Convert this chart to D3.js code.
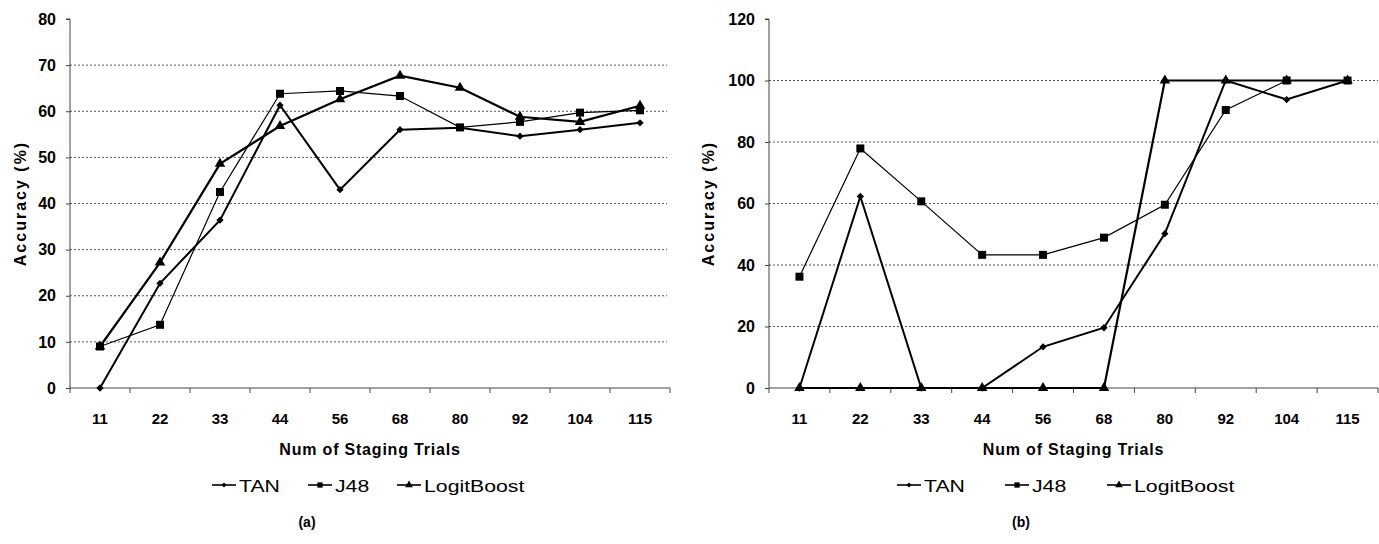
<!DOCTYPE html>
<html>
<head>
<meta charset="utf-8">
<script src="https://cdn.jsdelivr.net/npm/d3@7"></script>
<style>
  body { margin: 0; background: #fff; }
  text { font-family: "Liberation Sans", Arial, sans-serif; fill: #000; }
</style>
</head>
<body>
<svg id="chart" width="1379" height="544"></svg>
<script>
// values
var categories = ['11', '22', '33', '44', '56', '68', '80', '92', '104', '115'];
var seriesNames = ['TAN', 'J48', 'LogitBoost'];

var tanA = [0, 22.7, 36.4, 61.3, 43, 56, 56.4, 54.6, 56, 57.5];
var j48A = [9, 13.7, 42.5, 63.8, 64.4, 63.3, 56.5, 57.7, 59.7, 60.2];
var logitA = [9, 27.2, 48.6, 56.8, 62.6, 67.7, 65.1, 58.8, 57.7, 61.2];
var yTicksA = [0, 10, 20, 30, 40, 50, 60, 70, 80];

var tanB = [0, 62.3, 0, 0, 13.4, 19.6, 50.2, 100, 93.8, 100];
var j48B = [36.2, 77.9, 60.7, 43.3, 43.3, 48.9, 59.6, 90.4, 100, 100];
var logitB = [0, 0, 0, 0, 0, 0, 100, 100, 100, 100];
var yTicksB = [0, 20, 40, 60, 80, 100, 120];

var svg = d3.select('#chart');

var symbols = [d3.symbolDiamond2, d3.symbolSquare, d3.symbolTriangle];
var markerSize = [34, 64, 48];
var legendMarkerSize = [16, 28, 26];
var strokeW = [2, 1.2, 2.2];

function drawPanel(opts) {
	var g = svg.append('g');
	var x = d3.scaleBand().domain(categories).range([opts.left, opts.right]).padding(0);
	var y = d3.scaleLinear().domain([0, d3.max(opts.yTicks)]).range([388, 19]);
	var top = d3.max(opts.yTicks);

	// grid lines (not at 0 nor at top)
	g.selectAll('line.grid')
		.data(opts.yTicks.filter(function (t) { return t > 0 && t < top; }))
		.enter().append('line')
		.attr('x1', opts.left).attr('x2', opts.gridEnd)
		.attr('y1', function (d) { return y(d); }).attr('y2', function (d) { return y(d); })
		.attr('stroke', '#555').attr('stroke-width', 1).attr('stroke-dasharray', '2,2');

	// y axis
	var yAxis = d3.axisLeft(y).tickValues(opts.yTicks).tickSize(4).tickPadding(10);
	var ya = g.append('g').attr('transform', 'translate(' + opts.left + ',0)').call(yAxis);
	ya.select('.domain').attr('stroke', '#444').attr('d', 'M-4,' + y(top) + 'H0V' + y(0));
	ya.selectAll('.tick line').attr('stroke', '#444');
	ya.selectAll('.tick text').attr('font-size', 16).attr('font-weight', 'bold')
		.attr('font-family', '"Liberation Sans", Arial, sans-serif').attr('fill', '#000');

	// x axis: ticks at band boundaries, labels at band centres
	var xa = g.append('g');
	xa.append('line').attr('x1', opts.left).attr('x2', opts.right)
		.attr('y1', 388).attr('y2', 388).attr('stroke', '#444');
	var edges = categories.map(function (c) { return x(c); }).concat([opts.right]);
	xa.selectAll('line.tk').data(edges).enter().append('line')
		.attr('x1', function (d) { return d; }).attr('x2', function (d) { return d; })
		.attr('y1', 388).attr('y2', 393).attr('stroke', '#444');
	xa.selectAll('text').data(categories).enter().append('text')
		.attr('x', function (d) { return x(d) + x.bandwidth() / 2; })
		.attr('y', 424).attr('text-anchor', 'middle')
		.attr('font-size', 15).attr('font-weight', 'bold')
		.text(function (d) { return d; });

	var cx = (opts.left + opts.right) / 2;
	g.append('text').attr('x', cx).attr('y', 455).attr('text-anchor', 'middle')
		.attr('font-size', 16).attr('font-weight', 'bold').attr('letter-spacing', 0.8)
		.text('Num of Staging Trials');

	g.append('text')
		.attr('transform', 'translate(' + opts.yTitleX + ',' + ((19 + 388) / 2) + ') rotate(-90)')
		.attr('text-anchor', 'middle').attr('font-size', 16).attr('font-weight', 'bold')
		.attr('letter-spacing', 2)
		.text('Accuracy (%)');

	// series
	var line = d3.line()
		.x(function (d, i) { return x(categories[i]) + x.bandwidth() / 2; })
		.y(function (d) { return y(d); });
	opts.series.forEach(function (vals, s) {
		g.append('path').datum(vals).attr('d', line)
			.attr('fill', 'none').attr('stroke', '#000').attr('stroke-width', strokeW[s])
			.attr('stroke-linejoin', 'miter');
	});
	opts.series.forEach(function (vals, s) {
		g.selectAll('path.m' + s).data(vals).enter().append('path')
			.attr('d', d3.symbol().type(symbols[s]).size(markerSize[s]))
			.attr('transform', function (d, i) {
				return 'translate(' + (x(categories[i]) + x.bandwidth() / 2) + ',' + y(d) + ')';
			})
			.attr('fill', '#000');
	});

	// legend
	seriesNames.forEach(function (name, s) {
		var lx = opts.legendX[s];
		var lg = g.append('g').attr('transform', 'translate(' + lx + ',485)');
		lg.append('line').attr('x1', 0).attr('x2', 24).attr('y1', 0).attr('y2', 0)
			.attr('stroke', '#000').attr('stroke-width', 1.6);
		lg.append('path').attr('d', d3.symbol().type(symbols[s]).size(legendMarkerSize[s])())
			.attr('transform', 'translate(12,0)').attr('fill', '#000');
		lg.append('text').attr('transform', 'translate(27,6.5) scale(1.25,1)')
			.attr('font-size', 17).text(name);
	});

	g.append('text').attr('x', opts.captionX).attr('y', 527).attr('text-anchor', 'middle')
		.attr('font-family', '"Liberation Serif", "Times New Roman", serif')
		.attr('font-size', 14).attr('font-weight', 'bold').text(opts.caption);
}

drawPanel({
	left: 70, right: 670, gridEnd: 667, yTicks: yTicksA, yTitleX: 26,
	series: [tanA, j48A, logitA],
	legendX: [212, 308, 397], caption: '(a)', captionX: 307
});
drawPanel({
	left: 769, right: 1378, gridEnd: 1378, yTicks: yTicksB, yTitleX: 714,
	series: [tanB, j48B, logitB],
	legendX: [897, 1005, 1107], caption: '(b)', captionX: 1021
});
</script>
</body>
</html>
